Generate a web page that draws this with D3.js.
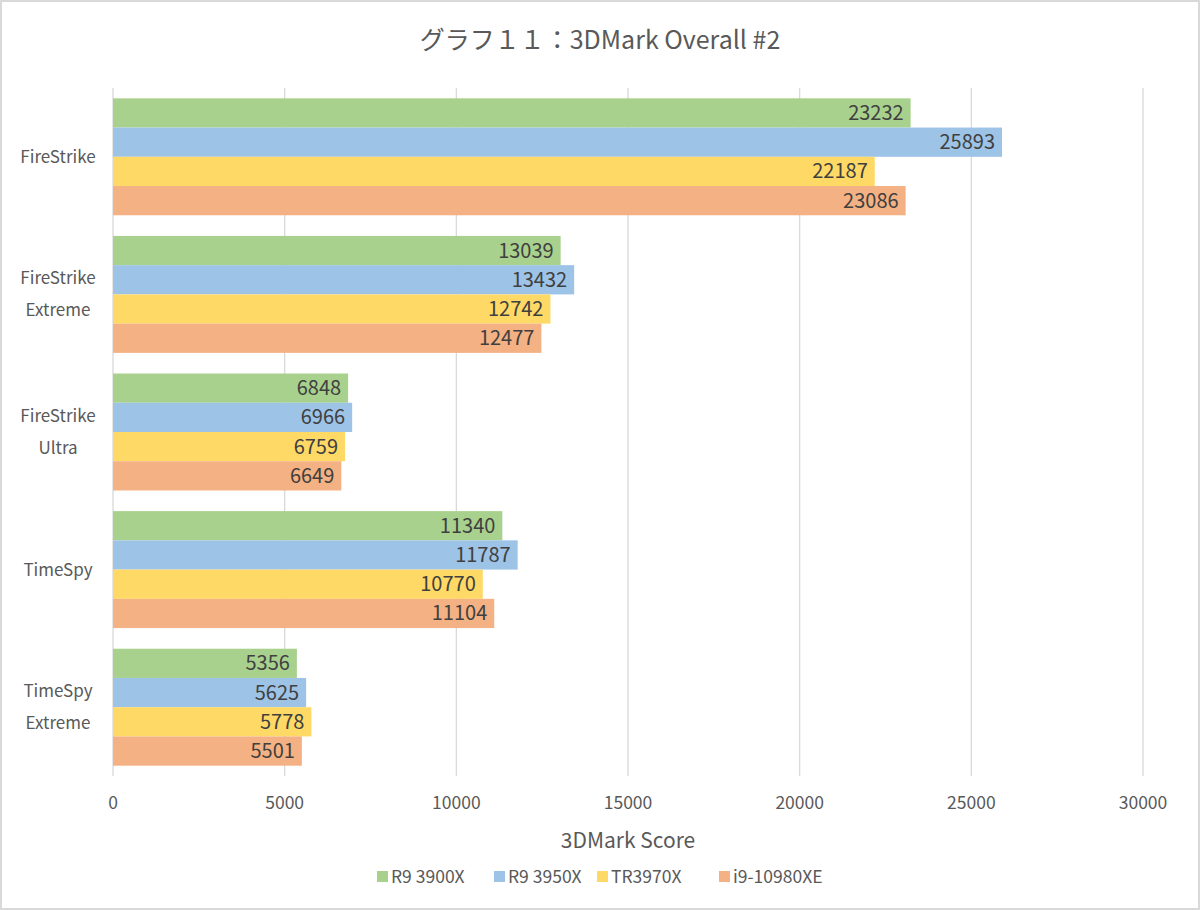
<!DOCTYPE html>
<html>
<head>
<meta charset="utf-8">
<script src="https://cdn.jsdelivr.net/npm/d3@7/dist/d3.min.js"></script>
<style>
  body { margin: 0; background: #fff; }
  svg text { font-family: "Noto Sans CJK JP", "Noto Sans", sans-serif; }
</style>
</head>
<body>
<svg id="chart" width="1200" height="910"></svg>
<script>
// chart data
const categories = [["FireStrike"], ["FireStrike", "Extreme"], ["FireStrike", "Ultra"], ["TimeSpy"], ["TimeSpy", "Extreme"]]
const seriesNames = ["R9 3900X", "R9 3950X", "TR3970X", "i9-10980XE"]
const r9_3900x = [23232, 13039, 6848, 11340, 5356]
const r9_3950x = [25893, 13432, 6966, 11787, 5625]
const tr3970x = [22187, 12742, 6759, 10770, 5778]
const i9_10980xe = [23086, 12477, 6649, 11104, 5501]
const xTicks = [0, 5000, 10000, 15000, 20000, 25000, 30000]
const colors = ["#A9D18E", "#9DC3E6", "#FFD966", "#F4B183"]

const series = [r9_3900x, r9_3950x, tr3970x, i9_10980xe]

const svg = d3.select("#chart")
const W = 1200, H = 910
const plot = { left: 113, right: 1143, top: 88, bottom: 776 }

// outer border
svg.append("rect")
  .attr("x", 1).attr("y", 1)
  .attr("width", W - 2).attr("height", H - 2)
  .attr("fill", "#fff")
  .attr("stroke", "#d9d9d9")
  .attr("stroke-width", 2)

svg.append("text")
  .attr("x", 600).attr("y", 49)
  .attr("text-anchor", "middle")
  .attr("font-size", "25px")
  .attr("fill", "#595959")
  .text("グラフ１１：3DMark Overall #2")

const x = d3.scaleLinear().domain([0, 30000]).range([plot.left, plot.right])
const y0 = d3.scaleBand()
  .domain(d3.range(categories.length))
  .range([plot.top, plot.bottom])
  .paddingInner(0.15)
  .paddingOuter(0.075)
const y1 = d3.scaleBand()
  .domain(d3.range(seriesNames.length))
  .range([0, y0.bandwidth()])

// gridlines
svg.append("g")
  .selectAll("line")
  .data(xTicks)
  .enter()
  .append("line")
  .attr("x1", d => x(d)).attr("x2", d => x(d))
  .attr("y1", plot.top).attr("y2", plot.bottom)
  .attr("stroke", "#d9d9d9")
  .attr("stroke-width", 1.3)

// x tick labels
svg.append("g")
  .selectAll("text")
  .data(xTicks)
  .enter()
  .append("text")
  .attr("x", d => x(d))
  .attr("y", 809)
  .attr("text-anchor", "middle")
  .attr("font-size", "17.5px")
  .attr("fill", "#595959")
  .text(d => d)

// bars
const groups = svg.append("g")
  .selectAll("g")
  .data(categories.map((c, i) => i))
  .enter()
  .append("g")
  .attr("transform", i => `translate(0,${y0(i)})`)

groups.selectAll("rect")
  .data(i => series.map((s, k) => ({ k: k, v: s[i] })))
  .enter()
  .append("rect")
  .attr("x", x(0))
  .attr("y", d => y1(d.k))
  .attr("width", d => x(d.v) - x(0))
  .attr("height", y1.bandwidth())
  .attr("fill", d => colors[d.k])

groups.selectAll("text")
  .data(i => series.map((s, k) => ({ k: k, v: s[i] })))
  .enter()
  .append("text")
  .attr("x", d => x(d.v) - 7)
  .attr("y", d => y1(d.k) + y1.bandwidth() / 2 + 7)
  .attr("text-anchor", "end")
  .attr("font-size", "20px")
  .attr("fill", "#404040")
  .text(d => d.v)

// category labels
svg.append("g")
  .selectAll("text")
  .data(categories.map((c, i) => ({ c: c, i: i })))
  .enter()
  .append("text")
  .attr("text-anchor", "middle")
  .attr("font-size", "17px")
  .attr("fill", "#595959")
  .each(function (d) {
    const cy = y0(d.i) + y0.bandwidth() / 2
    const n = d.c.length
    d3.select(this).selectAll("tspan")
      .data(d.c)
      .enter()
      .append("tspan")
      .attr("x", 58)
      .attr("y", (t, j) => cy + 6 + (j - (n - 1) / 2) * 32)
      .text(t => t)
  })

// axis title
svg.append("text")
  .attr("x", (plot.left + plot.right) / 2)
  .attr("y", 848)
  .attr("text-anchor", "middle")
  .attr("font-size", "21px")
  .attr("fill", "#595959")
  .text("3DMark Score")

// legend
const legendX = [377, 494, 597, 719]
const legend = svg.append("g")
  .selectAll("g")
  .data(seriesNames)
  .enter()
  .append("g")
  .attr("transform", (d, i) => `translate(${legendX[i]},871)`)

legend.append("rect")
  .attr("width", 11).attr("height", 11)
  .attr("fill", (d, i) => colors[i])

legend.append("text")
  .attr("x", 14).attr("y", 12)
  .attr("font-size", "17.5px")
  .attr("fill", "#595959")
  .text(d => d)
</script>
</body>
</html>
